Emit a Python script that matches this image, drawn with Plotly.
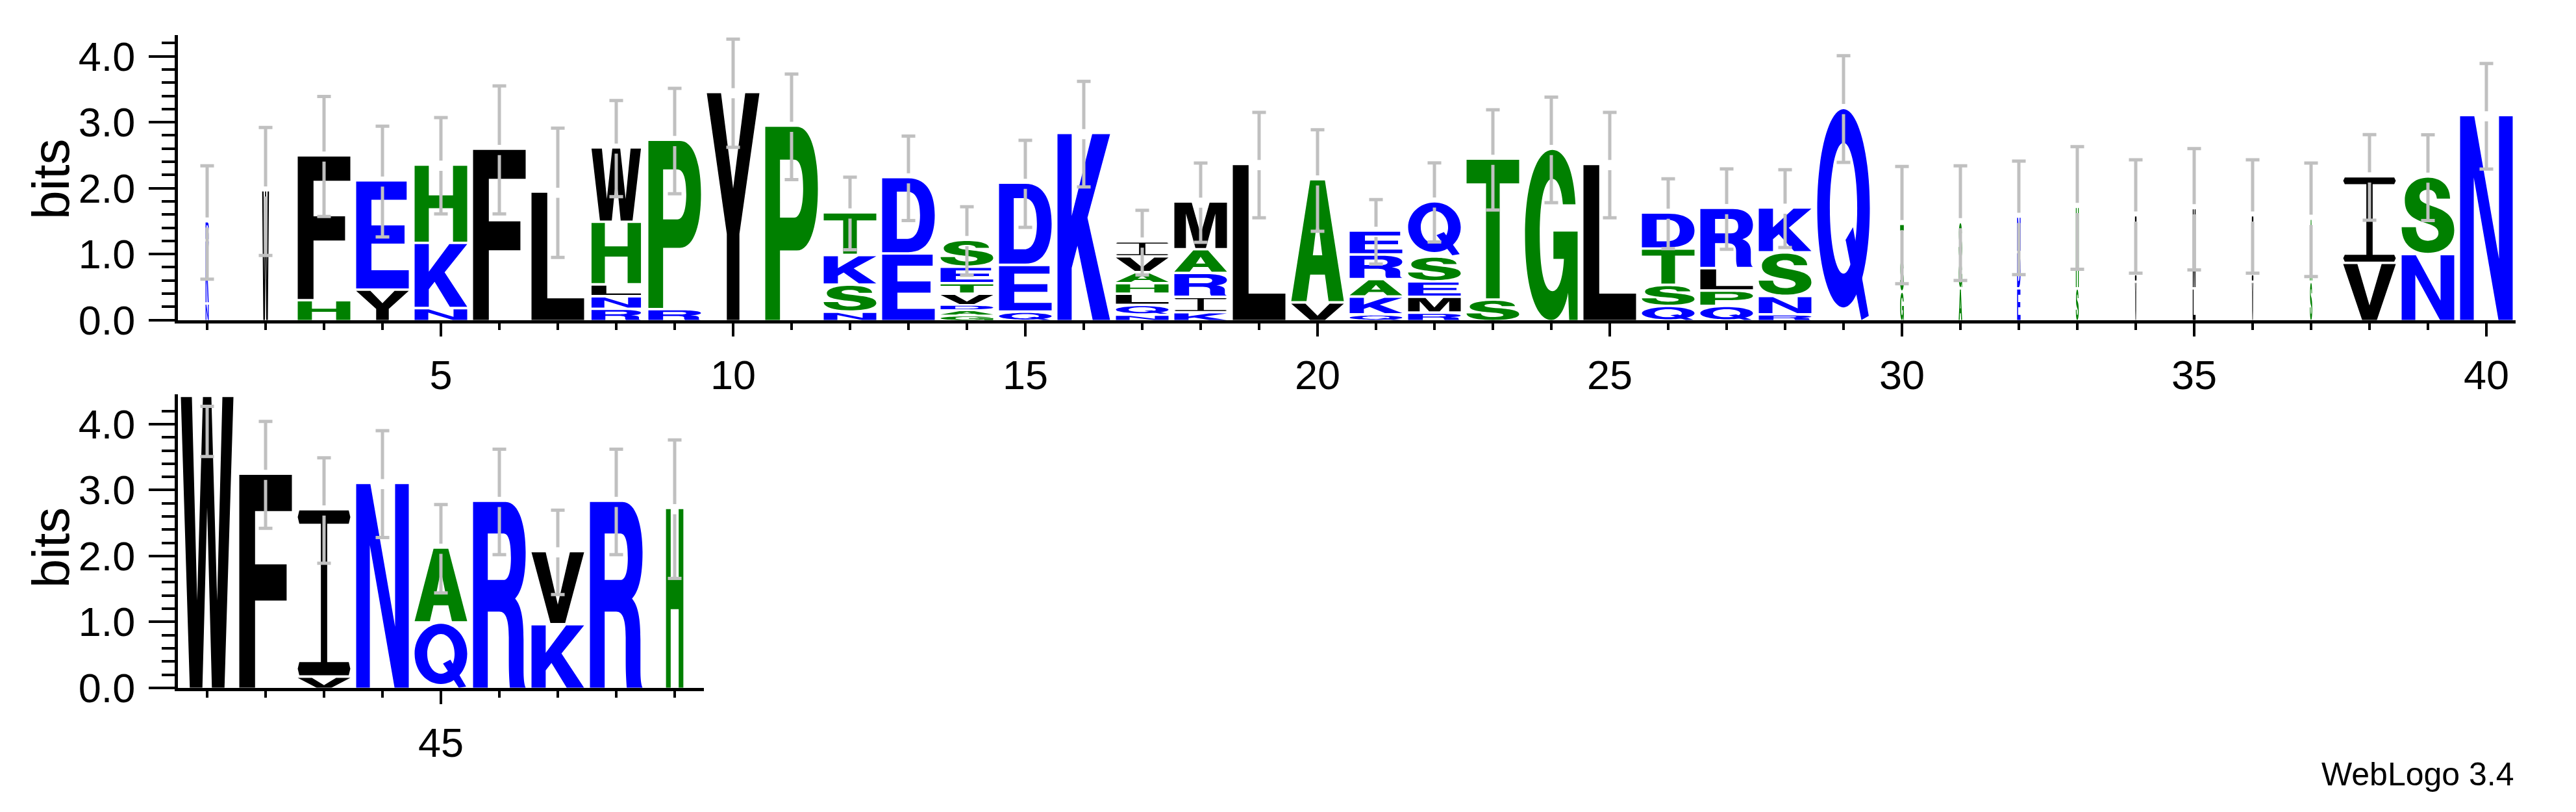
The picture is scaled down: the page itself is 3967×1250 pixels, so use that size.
import re
import plotly.graph_objects as go

# ---------------- data ----------------
positions = list(range(1, 50))
stack_letters = ["NKR", "W", "HF", "YE", "NKH", "F", "L", "RNLHW", "RP", "Y",
                 "P", "NSKT", "ED", "GADVTES", "QED", "K", "NQLHAVI", "KIRAM", "L", "VA",
                 "QKARE", "RMESQ", "ST", "G", "L", "QSTD", "QPLR", "RNSK", "Q", "GST",
                 "AGS", "EDN", "SH", "VI", "LM", "VI", "SA", "VI", "NS", "N",
                 "W", "F", "VI", "N", "QA", "R", "KV", "R", "H"]
stack_heights = [
    [0.27, 0.96, 0.25], [1.95], [0.32, 2.16], [0.48, 1.62], [0.20, 0.99, 1.15],
    [2.58], [1.93], [0.19, 0.19, 0.18, 0.95, 1.09], [0.185, 2.53], [3.44],
    [2.93], [0.146, 0.41, 0.45, 0.61], [1.03, 1.12],
    [0.083, 0.08, 0.08, 0.176, 0.159, 0.25, 0.37], [0.146, 0.71, 1.21],
    [2.82], [0.096, 0.153, 0.17, 0.159, 0.167, 0.24, 0.19],
    [0.137, 0.233, 0.364, 0.36, 0.686], [2.35], [0.287, 1.83],
    [0.105, 0.27, 0.265, 0.373, 0.325], [0.131, 0.24, 0.235, 0.377, 0.80],
    [0.33, 2.10], [2.58], [2.35], [0.233, 0.32, 0.55, 0.51],
    [0.233, 0.233, 0.34, 0.877], [0.105, 0.28, 0.66, 0.644], [3.20],
    [0.45, 0.50, 0.49], [0.50, 0.42, 0.55], [0.50, 0.55, 0.50], [0.50, 1.20],
    [0.60, 0.97], [0.50, 1.18], [0.60, 0.97], [0.60, 0.92], [0.887, 1.276],
    [1.02, 1.14], [3.09],
    [4.41], [3.23], [0.19, 2.50], [3.09], [1.01, 1.10], [2.82], [0.985, 1.07],
    [2.82], [2.71]]
column_width = [0.06, 0.13, 1, 1, 1, 1, 1, 0.94, 1, 1,
                1, 1, 1, 1, 1, 1, 1, 1, 1, 1,
                1, 1, 1, 1, 1, 1, 1, 1, 1, 0.07,
                0.065, 0.065, 0.055, 0.03, 0.055, 0.03, 0.045, 1, 1, 1,
                1, 1, 1, 1, 1, 1, 1, 1, 0.33]
error_half = [0.86, 0.97, 0.91, 0.84, 0.73, 0.97, 0.98, 0.73, 0.80, 0.82,
              0.80, 0.55, 0.64, 0.52, 0.66, 0.80, 0.49, 0.60, 0.80, 0.77,
              0.49, 0.60, 0.76, 0.80, 0.80, 0.53, 0.61, 0.59, 0.81, 0.89,
              0.87, 0.86, 0.93, 0.86, 0.92, 0.86, 0.86, 0.65, 0.65, 0.80,
              0.90, 0.81, 0.80, 0.81, 0.67, 0.80, 0.64, 0.80, 1.05]
row1_tickvals = [5, 10, 15, 20, 25, 30, 35, 40]
row2_tickvals = [45]
y_tickvals = [0, 1, 2, 3, 4]
y_ticktext = ["0.0", "1.0", "2.0", "3.0", "4.0"]
y_minor = [0.2, 0.4, 0.6, 0.8, 1.2, 1.4, 1.6, 1.8, 2.2, 2.4, 2.6, 2.8,
           3.2, 3.4, 3.6, 3.8, 4.2]

# ---------------- style ----------------
BLUE, GREEN, BLACK = "#0000ff", "#008000", "#000000"
COLOR = {}
for c in "RKDENQ":
    COLOR[c] = BLUE
for c in "SGHTAP":
    COLOR[c] = GREEN
for c in "YVMCLFIW":
    COLOR[c] = BLACK
FONT = "Liberation Sans, Arial, Helvetica, sans-serif"
LETTER_W = 0.9
GAP = 0.038
ERR_GAP = 0.077
CAP = 0.117
CLIP = 4.27

# glyph outlines in a 100x100 box (y up)
GLYPHS = {
    "A": [("M0,0 L36,100 L64,100 L100,0 L71,0 L64,22 L36,22 L29,0 Z M41,38 L59,38 L50,70 Z", "evenodd")],
    "D": [("M0,0 L0,100 L50,100 C88,100 100,76 100,50 C100,24 88,0 50,0 Z "
           "M28,18 L48,18 C64,18 72,30 72,50 C72,70 64,82 48,82 L28,82 Z", "evenodd")],
    "E": [("M0,0 L0,100 L96,100 L96,83 L29,83 L29,59 L92,59 L92,42 L29,42 L29,17 L100,17 L100,0 Z", "nonzero")],
    "F": [("M0,0 L0,100 L100,100 L100,83 L30,83 L30,58 L90,58 L90,41 L30,41 L30,0 Z", "nonzero")],
    "G": [("M96,68 C92,90 74,100 52,100 C20,100 0,78 0,50 C0,20 20,0 50,0 C64,0 76,6 82,16 "
           "L84,0 L100,0 L100,52 L54,52 L54,36 L74,36 C72,24 64,17 52,17 C36,17 28,30 28,50 "
           "C28,72 38,83 52,83 C62,83 70,77 72,68 Z", "nonzero")],
    "H": [("M0,0 L0,100 L27,100 L27,61 L73,61 L73,100 L100,100 L100,0 L73,0 L73,44 L27,44 L27,0 Z", "nonzero")],
    "I": [("M3,0 L97,0 L100,4 L97,8 L56,8 L56,92 L97,92 L100,96 L97,100 L3,100 L0,96 L3,92 "
           "L44,92 L44,8 L3,8 L0,4 Z", "nonzero")],
    "K": [("M0,0 L0,100 L27,100 L27,56 L66,100 L100,100 L57,55 L100,0 L67,0 L38,40 L27,28 L27,0 Z", "nonzero")],
    "L": [("M0,0 L0,100 L30,100 L30,17 L100,17 L100,0 Z", "nonzero")],
    "M": [("M0,0 L0,100 L33,100 L50,30 L67,100 L100,100 L100,0 L78,0 L78,76 L60,0 L40,0 L22,76 L22,0 Z", "nonzero")],
    "N": [("M0,0 L0,100 L27,100 L74,30 L74,100 L100,100 L100,0 L73,0 L26,70 L26,0 Z", "nonzero")],
    "P": [("M0,0 L0,100 L60,100 C88,100 100,85 100,68 C100,51 88,36 60,36 L28,36 L28,0 Z "
           "M28,53 L55,53 C67,53 72,60 72,68 C72,77 67,83 55,83 L28,83 Z", "evenodd")],
    "Q": [("M50,6 C77.6,6 100,27 100,53 C100,79 77.6,100 50,100 C22.4,100 0,79 0,53 C0,27 22.4,6 50,6 Z "
           "M50,22 C64.4,22 76,35.9 76,53 C76,70.1 64.4,84 50,84 C35.6,84 24,70.1 24,53 C24,35.9 35.6,22 50,22 Z",
           "evenodd"),
          ("M54,38 L68,44 L98,2 L84,0 Z", "nonzero")],
    "R": [("M0,0 L0,100 L62,100 C88,100 100,87 100,73 C100,60 93,52 80,48 C92,44 96,37 96,26 L96,10 "
           "C96,5 97,2 100,0 L70,0 C69,4 68,8 68,14 L68,27 C68,37 62,41 50,41 L28,41 L28,0 Z "
           "M28,58 L58,58 C68,58 72,63 72,70 C72,78 68,83 58,83 L28,83 Z", "evenodd")],
    "S": [("M92,72 C92,90 74,100 50,100 C24,100 6,88 6,70 C6,52 20,46 44,40 C62,36 70,33 70,26 "
           "C70,20 62,16 50,16 C36,16 28,22 27,34 L0,34 C0,12 20,0 50,0 C80,0 100,12 100,30 "
           "C100,48 86,55 62,61 C42,66 34,68 34,75 C34,80 40,84 50,84 C60,84 66,80 67,72 Z", "nonzero")],
    "T": [("M0,100 L100,100 L100,83 L63,83 L63,0 L37,0 L37,83 L0,83 Z", "nonzero")],
    "V": [("M0,100 L27,100 L50,26 L73,100 L100,100 L64,0 L36,0 Z", "nonzero")],
    "W": [("M0,100 L21,100 L31,30 L42,100 L58,100 L69,30 L79,100 L100,100 L83,0 L59,0 L50,62 L41,0 L17,0 Z", "nonzero")],
    "Y": [("M0,100 L27,100 L50,58 L73,100 L100,100 L62,38 L62,0 L38,0 L38,38 Z", "nonzero")],
}


def glyph_path(d, xc, w, y0, h):
    out, nums = [], []
    for t in re.findall(r"[A-Za-z]|-?\d+(?:\.\d+)?", d):
        if t.isalpha():
            out.append(t)
        else:
            nums.append(float(t))
            if len(nums) == 2:
                gx, gy = nums
                out.append(f"{xc + (gx / 100 - 0.5) * w:.5f},{y0 + gy / 100 * h:.5f}")
                nums = []
    return " ".join(out)


shapes = []
err = {"x": {"x": [], "y": []}, "x2": {"x": [], "y": []}}
for i, p in enumerate(positions):
    xr, yr = ("x", "y") if p <= 40 else ("x2", "y2")
    w = LETTER_W * column_width[i]
    y0 = 0.0
    letters = stack_letters[i]
    heights = stack_heights[i]
    for j, (ch, h) in enumerate(zip(letters, heights)):
        hd = h if j == len(letters) - 1 else h - min(GAP, 0.35 * h)
        for d, rule in GLYPHS[ch]:
            shapes.append(dict(type="path", path=glyph_path(d, p, w, y0, hd),
                               xref=xr, yref=yr, fillcolor=COLOR[ch],
                               line=dict(width=0), layer="below", fillrule=rule))
        y0 += h
    top = y0
    lo = top - error_half[i]
    hi = min(top + error_half[i], CLIP)
    ex, ey = err[xr]["x"], err[xr]["y"]
    ex += [p - CAP, p + CAP, None]
    ey += [lo, lo, None]
    ex += [p - CAP, p + CAP, None]
    ey += [hi, hi, None]
    ex += [p, p, None]
    ey += [lo, min(top - ERR_GAP, hi), None]
    if top + ERR_GAP < hi:
        ex += [p, p, None]
        ey += [top + ERR_GAP, hi, None]

fig = go.Figure()
for xr, yr in (("x", "y"), ("x2", "y2")):
    fig.add_trace(go.Scatter(x=err[xr]["x"], y=err[xr]["y"], mode="lines",
                             line=dict(color="#c0c0c0", width=5),
                             xaxis=xr, yaxis=yr, hoverinfo="skip", showlegend=False))

W_PX, H_PX = 3967, 1250
PX_PER_BIT = 104.5
LEFT, RIGHT1, RIGHT2 = 266, 3866, 1076
BASE1, BASE2 = 498, 1081
YMAX1, YMAX2 = 4.3219, 4.45

tick_font = dict(family=FONT, size=63, color="black")
common_x = dict(showline=True, linewidth=5, linecolor="black", showgrid=False, zeroline=False,
                ticks="outside", ticklen=20, tickwidth=4, tickcolor="black",
                tickfont=tick_font, tickmode="array", fixedrange=True, ticklabelstandoff=6)
common_y = dict(showline=True, linewidth=5, linecolor="black", showgrid=False, zeroline=False,
                ticks="outside", ticklen=40, tickwidth=4, tickcolor="black",
                tickfont=tick_font, tickmode="array", tickvals=y_tickvals, ticktext=y_ticktext,
                fixedrange=True, ticklabelstandoff=8)

fig.update_layout(
    width=W_PX, height=H_PX, margin=dict(l=0, r=0, t=0, b=0),
    paper_bgcolor="white", plot_bgcolor="white", showlegend=False,
    shapes=shapes,
    xaxis=dict(common_x, domain=[LEFT / W_PX, RIGHT1 / W_PX], range=[0.5, 40.5],
               tickvals=row1_tickvals, ticktext=[str(v) for v in row1_tickvals],
               minor=dict(tickmode="array", tickvals=positions[:40], ticks="outside",
                          ticklen=10, tickwidth=4, tickcolor="black"),
               anchor="y"),
    yaxis=dict(common_y, domain=[(H_PX - BASE1) / H_PX, (H_PX - BASE1 + YMAX1 * PX_PER_BIT) / H_PX],
               range=[0, YMAX1], anchor="x",
               minor=dict(tickmode="array", tickvals=y_minor, ticks="outside",
                          ticklen=20, tickwidth=4, tickcolor="black")),
    xaxis2=dict(common_x, domain=[LEFT / W_PX, RIGHT2 / W_PX], range=[40.5, 49.5],
                tickvals=row2_tickvals, ticktext=[str(v) for v in row2_tickvals],
                minor=dict(tickmode="array", tickvals=positions[40:], ticks="outside",
                           ticklen=10, tickwidth=4, tickcolor="black"),
                anchor="y2"),
    yaxis2=dict(common_y, domain=[(H_PX - BASE2) / H_PX, (H_PX - BASE2 + YMAX2 * PX_PER_BIT) / H_PX],
                range=[0, YMAX2], anchor="x2",
                minor=dict(tickmode="array", tickvals=y_minor, ticks="outside",
                           ticklen=20, tickwidth=4, tickcolor="black")),
)

for yc in (275, 859):
    fig.add_annotation(text="bits", textangle=-90, xref="paper", yref="paper",
                       x=70 / W_PX, y=(H_PX - yc) / H_PX, xanchor="center", yanchor="middle",
                       showarrow=False, font=dict(family=FONT, size=80, color="black"))
fig.add_annotation(text="WebLogo 3.4", xref="paper", yref="paper",
                   x=3866 / W_PX, y=(H_PX - 1218) / H_PX, xanchor="right", yanchor="middle",
                   showarrow=False, font=dict(family=FONT, size=50, color="black"))

fig.write_html("out.html")
